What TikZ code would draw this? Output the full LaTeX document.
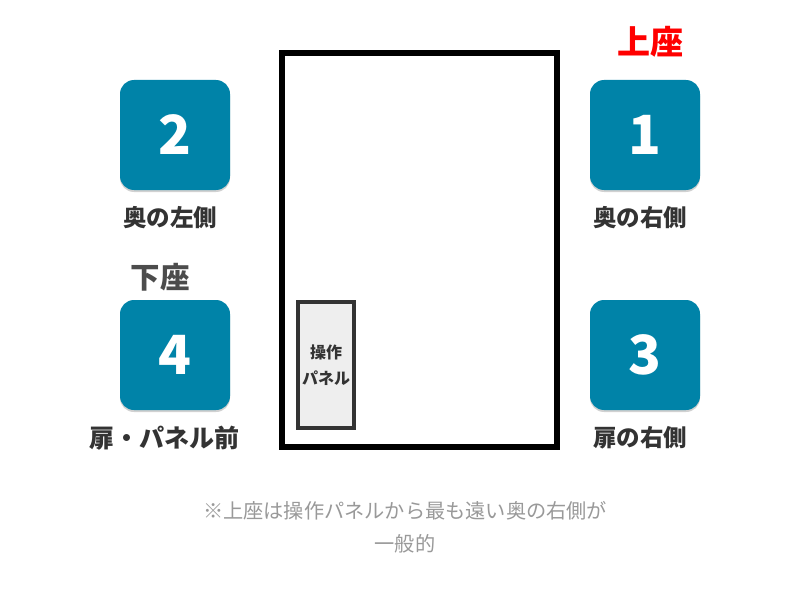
\documentclass[tikz,border=0pt]{standalone}
\usepackage{fontspec}
\setmainfont{Noto Sans CJK JP}
\definecolor{seat}{HTML}{0083A8}
\definecolor{lbl}{HTML}{333333}
\definecolor{note}{HTML}{999999}
\definecolor{panelfill}{HTML}{EEEEEE}
\tikzset{
  seatbox/.style={fill=seat, rounded corners=14pt, minimum width=110pt, minimum height=110pt, inner sep=0pt, text=white, font=\fontsize{54}{54}\selectfont\bfseries},
  seatshadow/.style={fill=black!18, rounded corners=14pt, minimum width=110pt, minimum height=110pt, inner sep=0pt},
  seatlabel/.style={text=lbl, font=\fontsize{23.5}{23.5}\selectfont\bfseries, inner sep=0pt},
}
\begin{document}
\begin{tikzpicture}[x=1pt,y=-1pt]
\useasboundingbox[fill=white] (0,0) rectangle (806,591);
% elevator
\draw[line width=6pt, black] (282,53) rectangle (557,447);
\node[draw=lbl, line width=4pt, fill=panelfill, minimum width=56pt, minimum height=126pt, inner sep=0pt] (panel) at (326,365) {};
\node[text=lbl, font=\fontsize{16}{26}\selectfont\bfseries, align=center] (paneltext) at (326,365) {操作\\パネル};
% shadows
\foreach \p/\q in {175/137,645/137,175/357,645/357}{
  \node[seatshadow] at (\p,\q) {};
}
% seats
\node[seatbox] (s1) at (645,135) {1};
\node[seatbox] (s2) at (175,135) {2};
\node[seatbox] (s3) at (645,355) {3};
\node[seatbox] (s4) at (175,355) {4};
% labels
\node[seatlabel] (l1) at (640,218) {奥の右側};
\node[seatlabel] (l2) at (170,218) {奥の左側};
\node[seatlabel] (l3) at (640,438) {扉の右側};
\node[seatlabel, font=\fontsize{25}{25}\selectfont\bfseries] (l4) at (164,438) {扉・パネル前};
\node[text=red, font=\fontsize{33}{33}\selectfont\bfseries, inner sep=0pt] (kamiza) at (650,42) {上座};
\node[text=black!70, font=\fontsize{29.5}{29.5}\selectfont\bfseries, inner sep=0pt] (shimoza) at (160,277) {下座};
% note
\node[text=note, font=\fontsize{20.2}{33}\selectfont, align=center] (notetext) at (405,527) {※上座は操作パネルから最も遠い奥の右側が\\一般的};
\end{tikzpicture}
\end{document}
